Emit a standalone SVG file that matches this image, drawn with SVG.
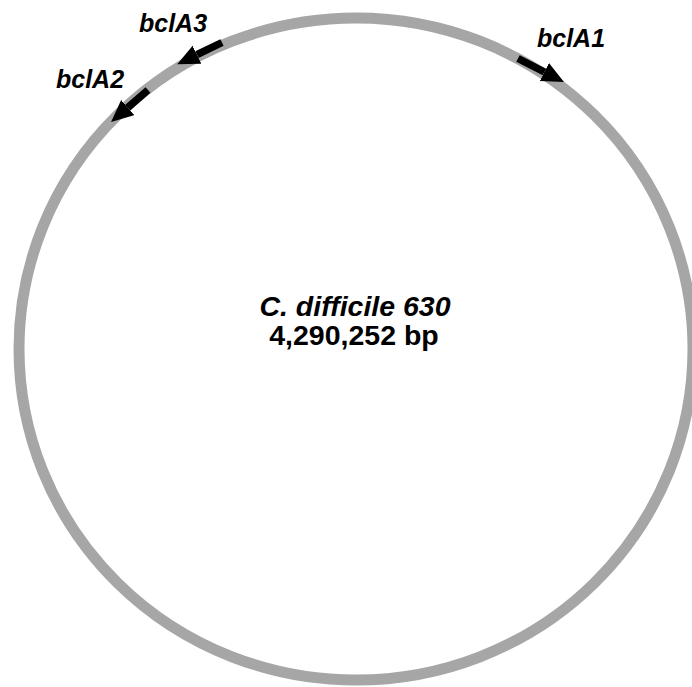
<svg xmlns="http://www.w3.org/2000/svg" width="692" height="687" viewBox="0 0 692 687">
  <style>
    .chrom { fill: none; stroke: #a6a6a6; stroke-width: 11; }
    .gene { stroke: #000; stroke-width: 7.5; fill: none; marker-end: url(#head); }
    .label { font-family: "Liberation Sans", Arial, sans-serif; font-weight: bold; font-style: italic; font-size: 25px; fill: #000; }
    .title { font-family: "Liberation Sans", Arial, sans-serif; font-weight: bold; font-size: 28.5px; fill: #000; text-anchor: middle; }
  </style>
  <defs>
    <marker id="head" markerUnits="userSpaceOnUse" markerWidth="24" markerHeight="22" refX="0" refY="10" orient="auto" viewBox="0 0 24 22">
      <path d="M0,0 L22,10 L0,20 z" fill="#000"/>
    </marker>
  </defs>
  <rect width="692" height="687" fill="#fff"/>

  <!-- chromosome -->
  <g id="chromosome">
    <ellipse class="chrom" cx="356" cy="349" rx="337" ry="331"/>
    <text class="title" x="355" y="316" font-style="italic">C. difficile 630</text>
    <text class="title" x="354" y="345">4,290,252 bp</text>
  </g>

  <!-- gene arrows -->
  <g id="connectors">
    <line class="gene" x1="518" y1="58.5" x2="544.4" y2="72"/>
    <line class="gene" x1="222" y1="42.5" x2="197" y2="54.7"/>
    <line class="gene" x1="148" y1="90" x2="127.7" y2="107.6"/>
  </g>

  <g id="bclA1"><text class="label" x="537" y="47">bclA1</text></g>
  <g id="bclA3"><text class="label" x="139" y="32">bclA3</text></g>
  <g id="bclA2"><text class="label" x="56" y="88">bclA2</text></g>
</svg>
